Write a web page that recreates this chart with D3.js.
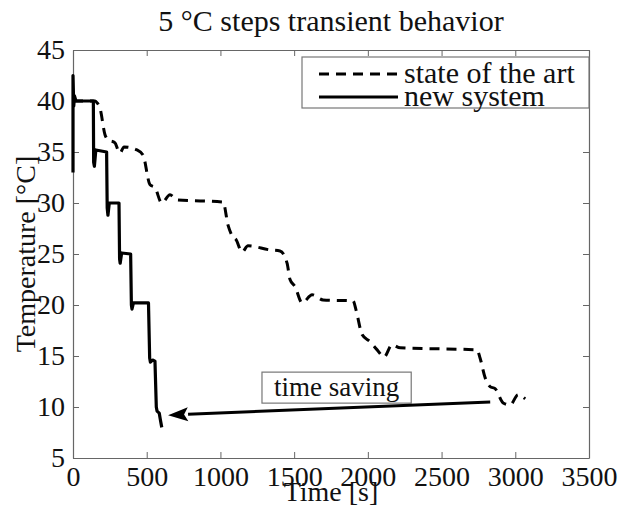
<!DOCTYPE html>
<html>
<head>
<meta charset="utf-8">
<script src="https://cdn.jsdelivr.net/npm/d3@7"></script>
<style>
  body { margin: 0; background: #fff; }
  svg { display: block; }
</style>
</head>
<body>
<div id="chart"></div>
<script>
// tick values
var timeTicks = [0, 500, 1000, 1500, 2000, 2500, 3000, 3500];
var tempTicks = [5, 10, 15, 20, 25, 30, 35, 40, 45];

// new system (solid)
var newTime = [0, 0, 5, 10, 20, 40, 138, 140, 145, 155, 228, 232, 237, 246, 312, 316, 320, 330, 391, 396, 400, 410, 512, 520, 525, 540, 556, 565, 570, 585, 592, 602];
var newTemp = [33, 42.5, 39.5, 40.5, 40, 40, 40, 34, 33.6, 35.2, 35, 29.5, 28.8, 30, 30, 24.5, 24.1, 25.1, 25, 20, 19.6, 20.2, 20.2, 14.8, 14.4, 14.6, 14.5, 10, 9.6, 9.4, 8.8, 8];

// state of the art (dashed)
var oldTime = [0, 150, 165, 183, 217, 237, 285, 305, 319, 346, 434, 475, 522, 556, 602, 658, 705, 1018, 1052, 1079, 1106, 1147, 1187, 1337, 1404, 1452, 1472, 1506, 1554, 1622, 1696, 1900, 1920, 1961, 2015, 2063, 2110, 2164, 2219, 2741, 2761, 2795, 2829, 2863, 2918, 2965, 3019, 3067];
var oldTemp = [40, 40, 39.8, 39.3, 36.7, 36.2, 35.9, 35.2, 34.9, 35.5, 35.2, 34.7, 31.8, 31.5, 30, 30.8, 30.3, 30.1, 27.8, 26.8, 26.4, 25.2, 25.8, 25.4, 25.3, 24.1, 22.5, 21.8, 20.2, 21.0, 20.5, 20.4, 19.5, 17.1, 16.4, 15.6, 14.9, 16.1, 15.8, 15.6, 14.8, 12.9, 12.0, 11.8, 10.4, 10.2, 11.2, 10.8];

var seriesNames = ["state of the art", "new system"];

// annotation: arrow tail, arrow tip, label centre (data units)
var arrowFrom = [2830, 10.5];
var arrowTo = [645, 9.2];
var savingLabel = [1788, 11.9];

var width = 620, height = 512;
var margin = {top: 50, right: 31, bottom: 54, left: 73};
var serif = "'Liberation Serif', 'Times New Roman', serif";

var svg = d3.select("#chart").append("svg")
    .attr("width", width)
    .attr("height", height)
    .style("font-family", serif);

var x = d3.scaleLinear().domain([0, 3500]).range([margin.left, width - margin.right]);
var y = d3.scaleLinear().domain([5, 45]).range([height - margin.bottom, margin.top]);

var axisColor = "#666";
var fmt = d3.format("d");

// frame with inward ticks on all four sides
function styleAxis(g) {
    g.attr("font-family", serif).attr("font-size", 28);
    g.select(".domain").attr("stroke", axisColor).attr("stroke-width", 1.2);
    g.selectAll(".tick line").attr("stroke", axisColor).attr("stroke-width", 1);
    g.selectAll(".tick text")
        .attr("fill", "#111")
        .style("font-family", serif)
        .style("font-size", "28px");
}

svg.append("g")
    .attr("transform", `translate(0,${y(5)})`)
    .call(d3.axisBottom(x).tickValues(timeTicks).tickFormat(fmt).tickSizeInner(-6).tickSizeOuter(0))
    .call(styleAxis)
    .call(g => g.selectAll(".tick text").attr("y", 28).attr("dy", null));

svg.append("g")
    .attr("transform", `translate(0,${y(45)})`)
    .call(d3.axisTop(x).tickValues(timeTicks).tickSizeInner(-6).tickSizeOuter(0).tickFormat(""))
    .call(styleAxis);

svg.append("g")
    .attr("transform", `translate(${x(0)},0)`)
    .call(d3.axisLeft(y).tickValues(tempTicks).tickFormat(fmt).tickSizeInner(-6).tickSizeOuter(0).tickPadding(8))
    .call(styleAxis);

svg.append("g")
    .attr("transform", `translate(${x(3500)},0)`)
    .call(d3.axisRight(y).tickValues(tempTicks).tickSizeInner(-6).tickSizeOuter(0).tickFormat(""))
    .call(styleAxis);

// titles
svg.append("text")
    .attr("x", (x(0) + x(3500)) / 2)
    .attr("y", 31)
    .attr("text-anchor", "middle")
    .attr("font-size", 30)
    .attr("fill", "#111")
    .text("5 °C steps transient behavior");

svg.append("text")
    .attr("x", (x(0) + x(3500)) / 2)
    .attr("y", 501)
    .attr("text-anchor", "middle")
    .attr("font-size", 28)
    .attr("fill", "#111")
    .text("Time [s]");

svg.append("text")
    .attr("transform", `translate(35,${(y(5) + y(45)) / 2}) rotate(-90)`)
    .attr("text-anchor", "middle")
    .attr("font-size", 28)
    .attr("fill", "#111")
    .text("Temperature [°C]");

// lines
var line = d3.line()
    .x(d => x(d[0]))
    .y(d => y(d[1]));

var oldData = oldTime.map((t, i) => [t, oldTemp[i]]);
var newData = newTime.map((t, i) => [t, newTemp[i]]);

svg.append("path")
    .datum(oldData)
    .attr("fill", "none")
    .attr("stroke", "#000")
    .attr("stroke-width", 3)
    .attr("stroke-dasharray", "10,7")
    .attr("d", line.curve(d3.curveMonotoneX));

svg.append("path")
    .datum(newData)
    .attr("fill", "none")
    .attr("stroke", "#000")
    .attr("stroke-width", 3.2)
    .attr("stroke-linejoin", "round")
    .attr("d", line.curve(d3.curveLinear));

// legend
var legend = svg.append("g");
legend.append("rect")
    .attr("x", 302).attr("y", 57)
    .attr("width", x(3500) - 302).attr("height", 51)
    .attr("fill", "#fff")
    .attr("stroke", "#777")
    .attr("stroke-width", 1.2);

seriesNames.forEach(function(name, i) {
    var ly = 73 + i * 23;
    legend.append("line")
        .attr("x1", 319).attr("x2", 398)
        .attr("y1", ly + 1).attr("y2", ly + 1)
        .attr("stroke", "#000")
        .attr("stroke-width", 3)
        .attr("stroke-dasharray", i === 0 ? "10,7" : null);
    legend.append("text")
        .attr("x", 404)
        .attr("y", ly)
        .attr("dy", "0.32em")
        .attr("font-size", 30)
        .attr("fill", "#111")
        .text(name);
});

// time saving annotation
var note = svg.append("g");
var lx = x(savingLabel[0]), ly = y(savingLabel[1]);
var noteBox = note.append("rect");
var labelText = note.append("text")
    .attr("x", lx)
    .attr("y", ly)
    .attr("dy", "0.32em")
    .attr("text-anchor", "middle")
    .attr("font-size", 27)
    .attr("fill", "#111")
    .text("time saving");
var bb = labelText.node().getBBox();
noteBox
    .attr("x", bb.x - 12)
    .attr("y", ly - 15.5)
    .attr("width", bb.width + 24)
    .attr("height", 31)
    .attr("fill", "#fff")
    .attr("stroke", "#777")
    .attr("stroke-width", 1.2);

var ax0 = x(arrowFrom[0]), ay0 = y(arrowFrom[1]);
var ax1 = x(arrowTo[0]), ay1 = y(arrowTo[1]);
var ang = Math.atan2(ay1 - ay0, ax1 - ax0);
var headLen = 20, headW = 7;
var bx = ax1 - headLen * Math.cos(ang), by = ay1 - headLen * Math.sin(ang);

note.append("line")
    .attr("x1", ax0).attr("y1", ay0)
    .attr("x2", bx).attr("y2", by)
    .attr("stroke", "#000")
    .attr("stroke-width", 3);

note.append("path")
    .attr("d", `M${ax1},${ay1}L${bx - headW * Math.sin(ang)},${by + headW * Math.cos(ang)}L${bx + 4 * Math.cos(ang)},${by + 4 * Math.sin(ang)}L${bx + headW * Math.sin(ang)},${by - headW * Math.cos(ang)}Z`)
    .attr("fill", "#000");
</script>
</body>
</html>
